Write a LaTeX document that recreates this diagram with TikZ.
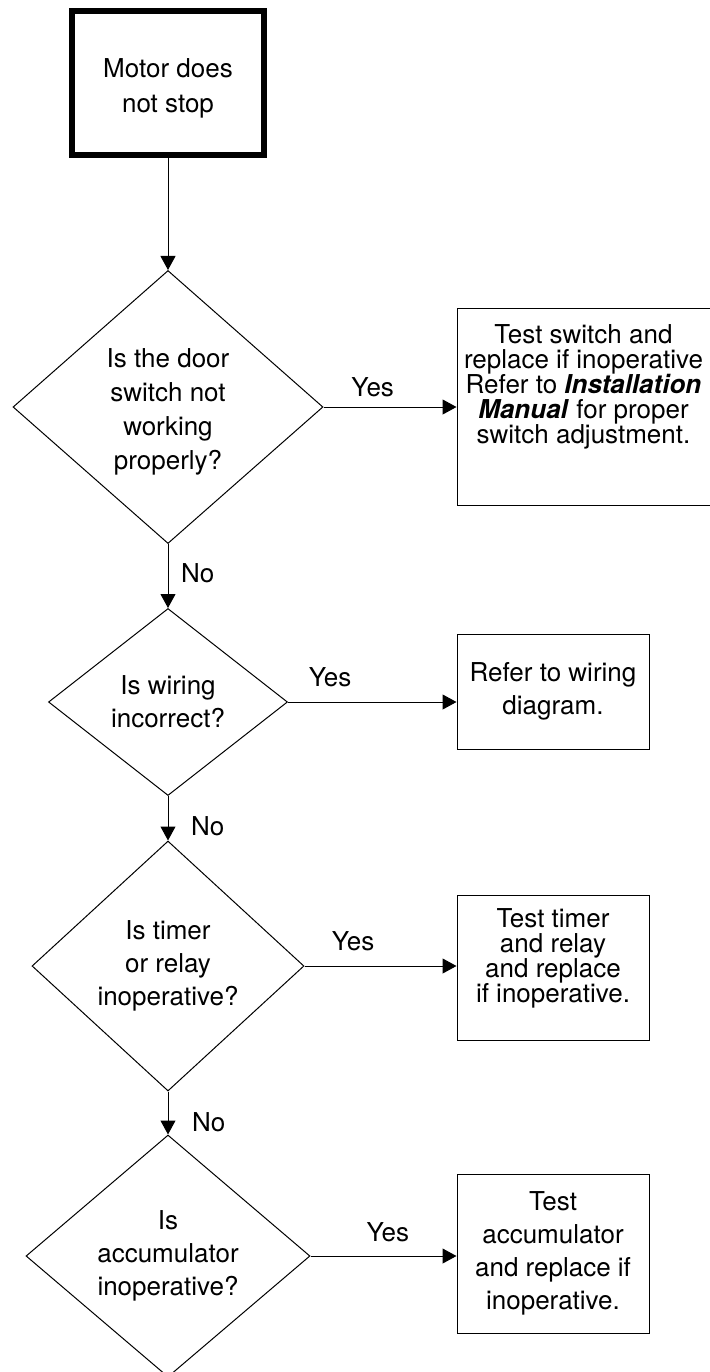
\documentclass[tikz,border=0pt]{standalone}
\usepackage{fontspec}
\setmainfont{TeX Gyre Heros}
\usetikzlibrary{positioning,shapes.geometric,arrows.meta}
\tikzset{
  st/.style={rectangle, minimum width=96pt, minimum height=72pt, line width=3pt, text centered, draw=black, align=center, font=\fontsize{13}{17.5}\selectfont},
  dc/.style={diamond, inner sep=0pt, text centered, draw=black, align=center, font=\fontsize{13}{16.5}\selectfont},
  ac/.style={rectangle, inner xsep=2pt, minimum width=96pt, text centered, draw=black, align=center, font=\fontsize{13}{16.5}\selectfont},
  ln/.style={-{Triangle[length=7pt,width=7.5pt]}},
  node distance=20pt
}

\begin{document}
\begin{tikzpicture}[line width=0.5pt, font=\fontsize{13}{16}\selectfont]
	\useasboundingbox (0,0) rectangle (355pt,-686pt);
	\node[st] (start) at (84pt,-41.5pt) {\rule{0pt}{14.5pt}Motor does\\not stop};
	\node[dc, below=56pt of start, minimum width=155pt, minimum height=136.5pt, font=\fontsize{13}{17}\selectfont] (door) {\rule{0pt}{14pt}Is the door\\switch not\\working\\properly?};
	\node[dc, below=32pt of door, minimum width=119.5pt, minimum height=93.5pt] (wiring) {Is wiring\\incorrect?};
	\node[dc, below=22.25pt of wiring, minimum width=136pt, minimum height=125pt] (timer) {Is timer\\or relay\\inoperative?};
	\node[dc, below=21.5pt of timer, minimum width=142pt, minimum height=121pt] (accu) {Is\\accumulator\\inoperative?};
	\node[ac, right=66.5pt of door, minimum width=126.5pt, minimum height=98.5pt, font=\fontsize{13}{12.5}\selectfont] (testsw) {Test switch and\\replace if inoperative\\Refer to \textbf{\textit{Installation}}\\\textbf{\textit{Manual}} for proper\\switch adjustment.\rule[-23pt]{0pt}{23pt}};
	\node[ac, right=84.25pt of wiring, yshift=5.25pt, minimum height=57.5pt] (refer) {Refer to wiring\\diagram.};
	\node[ac, right=76pt of timer, yshift=-0.75pt, minimum height=72.5pt, font=\fontsize{13}{12.5}\selectfont] (testtr) {Test timer\\and relay\\and replace\\if inoperative.\rule[-11.5pt]{0pt}{11.5pt}};
	\node[ac, right=73pt of accu, yshift=1.25pt, minimum height=79.5pt] (testacc) {Test\\accumulator\\and replace if\\inoperative.};
	%
	\draw[ln] (start) -- (door);
	\draw[ln] (door) -- node[right=3pt, pos=0.46] {No} (wiring);
	\draw[ln] (wiring) -- node[right=8pt, pos=0.69] {No} (timer);
	\draw[ln] (timer) -- node[right=8.5pt, pos=0.72] {No} (accu);
	\draw[ln] (door.east) -- node[above=1.5pt, pos=0.37] {Yes} (door.east -| testsw.west);
	\draw[ln] (wiring.east) -- node[above=4pt, pos=0.25] {Yes} (wiring.east -| refer.west);
	\draw[ln] (timer.east) -- node[above=4pt, pos=0.32] {Yes} (timer.east -| testtr.west);
	\draw[ln] (accu.east) -- node[above=3.5pt, pos=0.53] {Yes} (accu.east -| testacc.west);
\end{tikzpicture}
\end{document}
